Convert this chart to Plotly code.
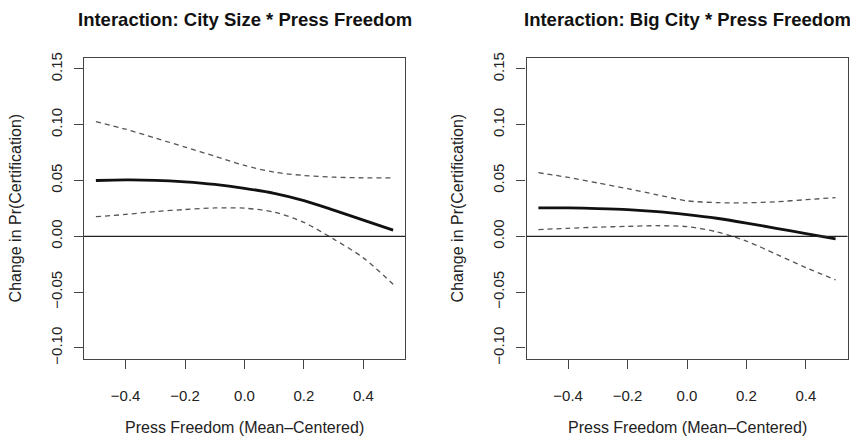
import plotly.graph_objects as go

# ---- data ----
press_freedom = [-0.5, -0.4, -0.3, -0.2, -0.1, 0.0, 0.1, 0.2, 0.3, 0.4, 0.5]

city_size_effect = [0.0500, 0.0505, 0.0502, 0.0488, 0.0465, 0.0430, 0.0385, 0.0320, 0.0235, 0.0145, 0.0055]
city_size_upper = [0.1027, 0.0960, 0.0880, 0.0800, 0.0718, 0.0635, 0.0575, 0.0545, 0.0530, 0.0524, 0.0523]
city_size_lower = [0.0176, 0.0196, 0.0222, 0.0240, 0.0254, 0.0252, 0.0217, 0.0125, -0.0025, -0.0193, -0.0430]

big_city_effect = [0.0254, 0.0254, 0.0249, 0.0240, 0.0222, 0.0195, 0.0162, 0.0119, 0.0072, 0.0025, -0.0022]
big_city_upper = [0.0570, 0.0528, 0.0478, 0.0427, 0.0372, 0.0318, 0.0302, 0.0300, 0.0310, 0.0328, 0.0347]
big_city_lower = [0.0060, 0.0072, 0.0082, 0.0089, 0.0095, 0.0087, 0.0040, -0.0043, -0.0160, -0.0280, -0.0390]

panel_titles = ["Interaction: City Size * Press Freedom", "Interaction: Big City * Press Freedom"]
x_title = "Press Freedom (Mean\u2013Centered)"
y_title = "Change in Pr(Certification)"
x_ticks = [-0.4, -0.2, 0.0, 0.2, 0.4]
y_ticks = [-0.10, -0.05, 0.00, 0.05, 0.10, 0.15]

# page body has an 8px margin; size the figure to fit inside the window
OFF = 8
W, H = 858 - 2 * OFF, 446 - 2 * OFF
FONT = "Liberation Sans, Arial, Helvetica, sans-serif"


def px_x(v):
    return (v - OFF) / W


def px_y(v):
    return 1 - (v - OFF) / H


fig = go.Figure()

panels = [
    (city_size_effect, city_size_upper, city_size_lower, "x", "y"),
    (big_city_effect, big_city_upper, big_city_lower, "x2", "y2"),
]
for eff, up, lo, xa, ya in panels:
    for ys in (up, lo):
        fig.add_trace(go.Scatter(x=press_freedom, y=ys, mode="lines", xaxis=xa, yaxis=ya,
                                 line=dict(color="#555555", width=1.3, dash="5px,4px", shape="spline", smoothing=0.8),
                                 showlegend=False, hoverinfo="skip"))
    fig.add_trace(go.Scatter(x=press_freedom, y=eff, mode="lines", xaxis=xa, yaxis=ya,
                             line=dict(color="#111111", width=2.8, shape="spline", smoothing=0.8),
                             showlegend=False, hoverinfo="skip"))

left_dom = [px_x(84), px_x(405)]
right_dom = [px_x(526.5), px_x(847.5)]
y_dom = [px_y(363), px_y(53)]

axis_common = dict(showline=True, mirror=True, linecolor="#444444", linewidth=1.2,
                   ticks="outside", ticklen=9, tickwidth=1.2, tickcolor="#444444",
                   showgrid=False, zeroline=False,
                   tickfont=dict(family=FONT, size=15, color="#222222"))

xaxis_common = dict(axis_common, range=[-0.54, 0.54], tickvals=x_ticks, tickformat=".1f",
                    ticklabelstandoff=14)
yaxis_common = dict(axis_common, range=[-0.11, 0.16], tickvals=y_ticks, tickformat=".2f",
                    tickangle=-90, ticklabelstandoff=6)

fig.update_layout(
    width=W, height=H,
    margin=dict(l=0, r=0, t=0, b=0),
    paper_bgcolor="white", plot_bgcolor="white",
    xaxis=dict(xaxis_common, domain=left_dom, anchor="y"),
    yaxis=dict(yaxis_common, domain=y_dom, anchor="x"),
    xaxis2=dict(xaxis_common, domain=right_dom, anchor="y2"),
    yaxis2=dict(yaxis_common, domain=y_dom, anchor="x2"),
)

# zero reference lines
for xr, yr in (("x domain", "y"), ("x2 domain", "y2")):
    fig.add_shape(type="line", xref=xr, yref=yr, x0=0, x1=1, y0=0, y1=0,
                  line=dict(color="#222222", width=1.2))

annotations = []
centers = [(left_dom[0] + left_dom[1]) / 2, (right_dom[0] + right_dom[1]) / 2]
ylab_x = [px_x(15), px_x(457)]
for i in range(2):
    annotations.append(dict(text="<b>" + panel_titles[i] + "</b>", x=centers[i], y=px_y(14),
                            xref="paper", yref="paper", xanchor="center", yanchor="middle",
                            showarrow=False, font=dict(family=FONT, size=18.5, color="#111111")))
    annotations.append(dict(text=x_title, x=centers[i], y=px_y(433),
                            xref="paper", yref="paper", xanchor="center", yanchor="middle",
                            showarrow=False, font=dict(family=FONT, size=16, color="#222222")))
    annotations.append(dict(text=y_title, x=ylab_x[i], y=(y_dom[0] + y_dom[1]) / 2,
                            xref="paper", yref="paper", xanchor="center", yanchor="middle",
                            textangle=-90, showarrow=False,
                            font=dict(family=FONT, size=16, color="#222222")))
fig.update_layout(annotations=annotations)

fig.write_html("out.html")
